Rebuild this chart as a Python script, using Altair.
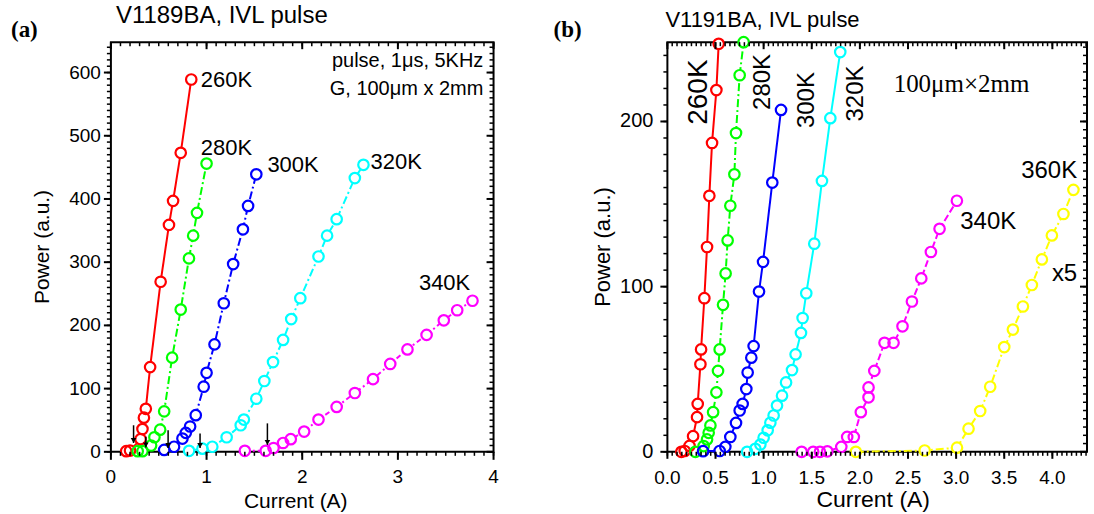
import altair as alt
import numpy as np
import pandas as pd

SANS = "Liberation Sans"
SERIF = "Liberation Serif"

# ---------------- panel (a): V1189BA, current (A) vs power (a.u.) ----------------
a_names = ["260K", "280K", "300K", "320K", "340K"]
a_colors = ["#ff0000", "#00ff00", "#0000ff", "#00ffff", "#ff00ff"]
a_dashes = [[1, 0], [8, 3, 2, 3], [8, 3, 2, 3], [8, 3, 2, 3], [5, 3, 2, 3]]

a_I_260 = [0.16, 0.20, 0.31, 0.33, 0.345, 0.365, 0.41, 0.52, 0.607, 0.65, 0.73, 0.84]
a_P_260 = [1, 2, 20, 36, 54, 68, 134, 269, 359, 397, 473, 589]
a_I_280 = [0.28, 0.33, 0.42, 0.455, 0.515, 0.557, 0.64, 0.73, 0.816, 0.86, 0.90, 1.0]
a_P_280 = [1, 1, 10, 23, 35, 64, 149, 225, 306, 342, 378, 456]
a_I_300 = [0.557, 0.66, 0.748, 0.783, 0.828, 0.887, 0.97, 1.0, 1.083, 1.18, 1.278, 1.38, 1.434, 1.52]
a_P_300 = [3, 8, 21, 30, 40, 58, 103, 125, 170, 235, 297, 352, 389, 439]
a_I_320 = [0.817, 0.957, 1.06, 1.21, 1.357, 1.39, 1.52, 1.604, 1.695, 1.80, 1.885, 1.98, 2.17, 2.26, 2.36, 2.55, 2.64]
a_P_320 = [1.6, 5, 8, 23, 42, 51, 84, 112, 142, 177, 210, 243, 309, 342, 368, 433, 454]
a_I_340 = [1.40, 1.618, 1.70, 1.80, 1.88, 2.02, 2.17, 2.36, 2.55, 2.74, 2.92, 3.10, 3.30, 3.48, 3.62, 3.78]
a_P_340 = [1.6, 1.6, 6, 14, 20, 32, 51, 71, 93, 115, 139, 162, 185, 208, 224, 239]

# threshold arrows
a_arrow_I = [0.237, 0.365, 0.598, 0.932, 1.636]
a_arrow_top = [42, 24, 34, 29, 45]
a_arrow_tip = [14, 7, 6, 6, 11]

a_lab_text = ["260K", "280K", "300K", "320K", "340K"]
a_lab_I = [0.939, 0.939, 1.636, 2.714, 3.22]
a_lab_P = [577, 469, 443, 448, 256]

a_note_text = ["pulse, 1μs, 5KHz", "G, 100μm x 2mm"]
a_note_I = [3.893, 3.893]
a_note_P = [609, 565]

a_xticks = [0, 1, 2, 3, 4]
a_xtick_labels = ["0", "1", "2", "3", "4"]
a_yticks = [0, 100, 200, 300, 400, 500, 600]
a_ytick_labels = ["0", "100", "200", "300", "400", "500", "600"]
a_xminor = [round(v, 2) for v in np.arange(0, 4.001, 0.1)]
a_yminor = list(range(0, 641, 10))

# ---------------- panel (b): V1191BA ----------------
b_names = ["260K", "280K", "300K", "320K", "340K", "360K"]
b_colors = ["#ff0000", "#00ff00", "#0000ff", "#00ffff", "#ff00ff", "#ffff00"]
b_dashes = [[1, 0], [8, 3, 2, 3], [1, 0], [1, 0], [7, 3], [8, 3, 2, 3]]

b_I_260 = [0.145, 0.18, 0.23, 0.267, 0.308, 0.315, 0.343, 0.35, 0.384, 0.412, 0.436, 0.464, 0.509, 0.533]
b_P_260 = [0, 0.5, 3.6, 9.5, 21, 29, 53, 62, 93, 124, 155, 187, 219, 247]
b_I_280 = [0.291, 0.377, 0.412, 0.429, 0.447, 0.475, 0.509, 0.526, 0.543, 0.578, 0.605, 0.626, 0.654, 0.696, 0.713, 0.751, 0.792]
b_P_280 = [0, 3.5, 7.5, 11.5, 16, 24, 36, 49, 62, 89, 108, 128, 149, 168, 193, 228, 248]
b_I_300 = [0.371, 0.543, 0.602, 0.654, 0.713, 0.751, 0.782, 0.82, 0.834, 0.872, 0.896, 0.952, 0.994, 1.09, 1.181]
b_P_300 = [0.4, 0.5, 3, 9, 17.5, 25, 29, 38, 48, 57, 64, 97, 115, 163, 207]
b_I_320 = [0.828, 0.914, 0.966, 1.0, 1.042, 1.07, 1.104, 1.139, 1.191, 1.233, 1.295, 1.332, 1.388, 1.405, 1.443, 1.526, 1.606, 1.693, 1.796]
b_P_320 = [0, 1.8, 4.4, 8.5, 13, 17.6, 22, 28, 34, 42, 49.5, 59, 72, 81, 96, 126, 164, 202, 242]
b_I_340 = [1.395, 1.515, 1.585, 1.662, 1.807, 1.868, 1.937, 2.01, 2.09, 2.09, 2.15, 2.256, 2.35, 2.443, 2.541, 2.638, 2.738, 2.828, 3.008]
b_P_340 = [0, 0, 0, 0.3, 3, 9, 9, 24, 33, 39, 49, 66, 66, 76, 91, 105, 121, 135, 152]
b_I_360 = [1.958, 2.673, 3.009, 3.129, 3.25, 3.354, 3.5, 3.59, 3.694, 3.787, 3.891, 3.995, 4.115, 4.219]
b_P_360 = [0, 0.8, 2.5, 14, 24.7, 39.4, 63.4, 74, 88, 101, 116.5, 131, 144, 158.6]

b_vlab_text = ["260K", "280K", "300K", "320K"]
b_vlab_I = [0.412, 1.069, 1.519, 2.032]
b_vlab_P = [198, 207, 196, 200]
b_vlab_size = [28, 24, 24, 24]

b_lab_text = ["360K", "340K", "x5"]
b_lab_I = [3.676, 3.043, 3.995]
b_lab_P = [165.5, 134.7, 103.4]

b_note_text = ["100μm×2mm"]
b_note_I = [2.351]
b_note_P = [217.6]

b_xticks = [0.0, 0.5, 1.0, 1.5, 2.0, 2.5, 3.0, 3.5, 4.0]
b_xtick_labels = ["0.0", "0.5", "1.0", "1.5", "2.0", "2.5", "3.0", "3.5", "4.0"]
b_yticks = [0, 100, 200]
b_ytick_labels = ["0", "100", "200"]
b_xminor = [round(v, 2) for v in np.arange(0, 4.351, 0.05)]
b_yminor_left = list(range(0, 241, 10))
b_yminor_right = list(range(0, 246, 5))

MAJOR, MINOR = 7, 4


def long_table(names, Is, Ps):
    rows = []
    for n, xs, ys in zip(names, Is, Ps):
        for k, (i, p) in enumerate(zip(xs, ys)):
            rows.append({"s": n, "I": i, "P": p, "k": k})
    return pd.DataFrame(rows)


def X(field, xs):
    return alt.X(field, scale=xs, axis=None)


def Y(field, ys):
    return alt.Y(field, scale=ys, axis=None)


def tick_segments(xdom, ydom, W, H, xmaj, xmin, ymaj, ymin_left, ymin_right, bottom_major):
    """All frame ticks as segments in data units: outward on bottom/left, inward on top/right."""
    ux = (xdom[1] - xdom[0]) / W   # data units per pixel
    uy = (ydom[1] - ydom[0]) / H
    segs = []

    def vert(vals, at, length, w):
        for v in vals:
            segs.append({"tx": v, "tx2": v, "ty": at, "ty2": at + length * uy, "tw": w})

    def horiz(vals, at, length, w):
        for v in vals:
            segs.append({"tx": at, "tx2": at + length * ux, "ty": v, "ty2": v, "tw": w})

    vert(xmin, ydom[0], -MINOR, 1.5)
    vert(xmaj, ydom[0], -bottom_major, 2)
    vert(xmin, ydom[1], -MINOR, 1.5)
    vert(xmaj, ydom[1], -MAJOR, 2)
    horiz(ymin_left, xdom[0], -MINOR, 1.5)
    horiz(ymaj, xdom[0], -MAJOR, 2)
    horiz(ymin_right, xdom[1], -MINOR, 1.5)
    horiz(ymaj, xdom[1], -MAJOR, 2)
    return pd.DataFrame(segs)


def tick_layer(segs, xs, ys):
    return alt.Chart(segs).mark_rule(color="black").encode(
        x=X("tx:Q", xs), x2="tx2:Q", y=Y("ty:Q", ys), y2="ty2:Q",
        strokeWidth=alt.StrokeWidth("tw:Q", scale=None, legend=None))


def x_labels(values, labels, xs, y, size):
    d = pd.DataFrame({"xv": values, "xt": labels})
    return alt.Chart(d).mark_text(font=SANS, fontSize=size, align="center",
                                  baseline="alphabetic", color="black").encode(
        x=X("xv:Q", xs), y=alt.value(y), text="xt:N")


def y_labels(values, labels, ys, x, size):
    d = pd.DataFrame({"yv": values, "yt": labels})
    return alt.Chart(d).mark_text(font=SANS, fontSize=size, align="right",
                                  baseline="middle", color="black").encode(
        y=Y("yv:Q", ys), x=alt.value(x), text="yt:N")


def series_layers(data, names, colors, dashes, xs, ys):
    color = alt.Color("s:N", scale=alt.Scale(domain=names, range=colors), legend=None)
    lines = alt.Chart(data).mark_line(strokeWidth=2).encode(
        x=X("I:Q", xs), y=Y("P:Q", ys), color=color,
        strokeDash=alt.StrokeDash("s:N", scale=alt.Scale(domain=names, range=dashes), legend=None),
        order="k:Q",
    )
    fills = alt.Chart(data).mark_point(shape="circle", filled=True, color="white", size=80,
                                       opacity=1, strokeWidth=0).encode(
        x=X("I:Q", xs), y=Y("P:Q", ys))
    rings = alt.Chart(data).mark_point(shape="circle", filled=False, size=110, strokeWidth=2.2,
                                       opacity=1).encode(
        x=X("I:Q", xs), y=Y("P:Q", ys), color=color)
    return [lines, fills, rings]


def text_layer(texts, Is, Ps, xs, ys, **kw):
    d = pd.DataFrame({"t": texts, "I": Is, "P": Ps})
    return alt.Chart(d).mark_text(**kw).encode(x=X("I:Q", xs), y=Y("P:Q", ys), text="t:N")


def pixel_text(text, x, y, **kw):
    return alt.Chart(pd.DataFrame({"t": [text]})).mark_text(color="black", **kw).encode(
        x=alt.value(x), y=alt.value(y), text="t:N")


# ---------------- build panel (a) ----------------
A_W, A_H = 383, 410
a_xdom, a_ydom = [0, 4], [0, 648]
a_xs = alt.Scale(domain=a_xdom, nice=False, zero=False)
a_ys = alt.Scale(domain=a_ydom, nice=False, zero=False)
a_df = long_table(a_names, [a_I_260, a_I_280, a_I_300, a_I_320, a_I_340],
                  [a_P_260, a_P_280, a_P_300, a_P_320, a_P_340])
a_segs = tick_segments(a_xdom, a_ydom, A_W, A_H, a_xticks, a_xminor, a_yticks, a_yminor,
                       a_yminor, 8)

a_arrows = pd.DataFrame({"I": a_arrow_I, "top": a_arrow_top, "tip": a_arrow_tip})
a_arrow_shaft = alt.Chart(a_arrows).mark_rule(color="black", strokeWidth=1.5).encode(
    x=X("I:Q", a_xs), y=Y("top:Q", a_ys), y2="tip:Q")
a_arrow_head = alt.Chart(a_arrows).transform_calculate(h="datum.tip + 4").mark_point(
    shape="triangle-down", filled=True, color="black", size=32, opacity=1).encode(
    x=X("I:Q", a_xs), y=Y("h:Q", a_ys))

a_layers = series_layers(a_df, a_names, a_colors, a_dashes, a_xs, a_ys)
a_layers += [
    tick_layer(a_segs, a_xs, a_ys),
    a_arrow_shaft, a_arrow_head,
    text_layer(a_lab_text, a_lab_I, a_lab_P, a_xs, a_ys, font=SANS, fontSize=22,
               align="left", baseline="alphabetic", color="black"),
    text_layer(a_note_text, a_note_I, a_note_P, a_xs, a_ys, font=SANS, fontSize=20,
               align="right", baseline="alphabetic", color="black"),
    x_labels(a_xticks, a_xtick_labels, a_xs, A_H + 31, 19),
    y_labels(a_yticks, a_ytick_labels, a_ys, -10, 19),
    pixel_text("Current (A)", 185, A_H + 56, font=SANS, fontSize=21, align="center",
               baseline="alphabetic"),
    pixel_text("Power (a.u.)", -62, A_H / 2, font=SANS, fontSize=21, align="center",
               baseline="alphabetic", angle=270),
    pixel_text("V1189BA, IVL pulse", 5, -19, font=SANS, fontSize=24, align="left",
               baseline="alphabetic"),
    pixel_text("(a)", -100, -12, font=SERIF, fontSize=23, fontWeight="bold", align="left",
               baseline="middle"),
]
panel_a = alt.layer(*a_layers).properties(width=A_W, height=A_H)

# ---------------- build panel (b) ----------------
B_W, B_H = 420, 410
b_xdom, b_ydom = [0, 4.36], [0, 248]
b_xs = alt.Scale(domain=b_xdom, nice=False, zero=False)
b_ys = alt.Scale(domain=b_ydom, nice=False, zero=False)
b_df = long_table(b_names, [b_I_260, b_I_280, b_I_300, b_I_320, b_I_340, b_I_360],
                  [b_P_260, b_P_280, b_P_300, b_P_320, b_P_340, b_P_360])
b_segs = tick_segments(b_xdom, b_ydom, B_W, B_H, b_xticks, b_xminor, b_yticks, b_yminor_left,
                       b_yminor_right, MAJOR)

b_vlab = pd.DataFrame({"t": b_vlab_text, "I": b_vlab_I, "P": b_vlab_P, "fs": b_vlab_size})
b_vlab_layer = alt.Chart(b_vlab).mark_text(font=SANS, angle=270, align="left",
                                           baseline="alphabetic", color="black").encode(
    x=X("I:Q", b_xs), y=Y("P:Q", b_ys), text="t:N",
    size=alt.Size("fs:Q", scale=None, legend=None))

b_layers = series_layers(b_df, b_names, b_colors, b_dashes, b_xs, b_ys)
b_layers += [
    tick_layer(b_segs, b_xs, b_ys),
    b_vlab_layer,
    text_layer(b_lab_text, b_lab_I, b_lab_P, b_xs, b_ys, font=SANS, fontSize=24,
               align="left", baseline="alphabetic", color="black"),
    text_layer(b_note_text, b_note_I, b_note_P, b_xs, b_ys, font=SERIF, fontSize=25,
               align="left", baseline="alphabetic", color="black"),
    x_labels(b_xticks, b_xtick_labels, b_xs, B_H + 32, 19),
    y_labels(b_yticks, b_ytick_labels, b_ys, -14, 20),
    pixel_text("Current (A)", B_W / 2 - 4, B_H + 55, font=SANS, fontSize=23, align="center",
               baseline="alphabetic"),
    pixel_text("Power (a.u.)", -57, B_H / 2, font=SANS, fontSize=22, align="center",
               baseline="alphabetic", angle=270),
    pixel_text("V1191BA, IVL pulse", -2, -15, font=SANS, fontSize=22, align="left",
               baseline="alphabetic"),
    pixel_text("(b)", -114, -12, font=SERIF, fontSize=23, fontWeight="bold", align="left",
               baseline="middle"),
]
panel_b = alt.layer(*b_layers).properties(width=B_W, height=B_H)

chart = (
    alt.hconcat(panel_a, panel_b, spacing=174, bounds="flush")
    .resolve_scale(color="independent", strokeDash="independent", size="independent",
                   strokeWidth="independent")
    .properties(padding={"left": 10, "top": 3, "right": 5, "bottom": 0}, background="white")
    .configure_view(stroke="black", strokeWidth=2)
)

chart.save("out.html", embed_options={"renderer": "svg", "actions": False})
